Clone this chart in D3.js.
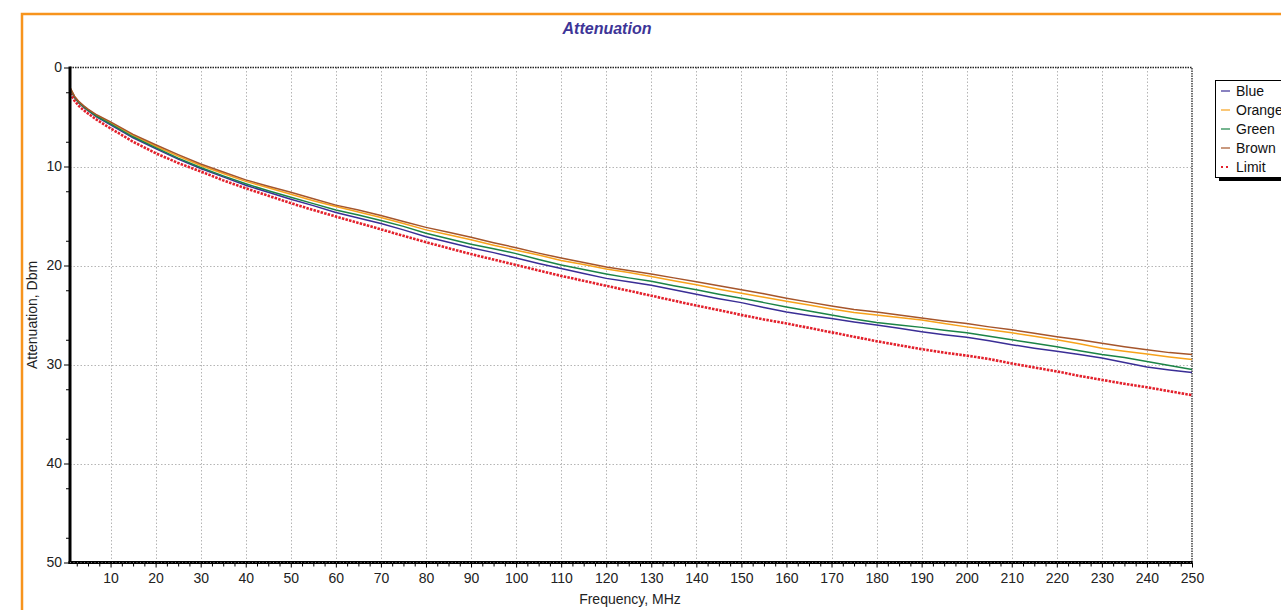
<!DOCTYPE html>
<html>
<head>
<meta charset="utf-8">
<script src="https://cdn.jsdelivr.net/npm/d3@7"></script>
<style>
  body { margin: 0; background: #fff; }
  svg { display: block; font-family: "Liberation Sans", Arial, sans-serif; }
</style>
</head>
<body>
<script>
// frequency points, MHz
var freqs = [1, 2, 3, 4, 5, 7, 10, 15, 20, 25, 30, 35, 40, 45, 50, 55, 60, 65, 70, 75, 80, 85, 90, 95,
  100, 105, 110, 115, 120, 125, 130, 135, 140, 145, 150, 155, 160, 165, 170, 175, 180, 185, 190, 195,
  200, 205, 210, 215, 220, 225, 230, 235, 240, 245, 250];

var blue = [2.15, 3.05, 3.6, 4.0, 4.35, 5.0, 5.8, 7.1, 8.2, 9.25, 10.2, 11.05, 11.9, 12.6, 13.3, 13.95, 14.65, 15.2, 15.75, 16.4, 17.1, 17.65, 18.2, 18.7,
  19.25, 19.8, 20.3, 20.8, 21.3, 21.65, 22.0, 22.45, 22.9, 23.35, 23.75, 24.25, 24.7, 25.05, 25.35, 25.7, 26.0, 26.35, 26.7, 27.0,
  27.25, 27.6, 28.0, 28.35, 28.65, 29.0, 29.35, 29.8, 30.25, 30.55, 30.8];
var orange = [2.05, 2.95, 3.5, 3.9, 4.25, 4.85, 5.6, 6.85, 7.95, 8.95, 9.9, 10.7, 11.5, 12.15, 12.8, 13.45, 14.05, 14.6, 15.15, 15.75, 16.4, 16.9, 17.4, 17.95,
  18.45, 18.95, 19.5, 19.9, 20.35, 20.7, 21.1, 21.55, 21.95, 22.4, 22.8, 23.2, 23.6, 24.0, 24.4, 24.75, 25.0, 25.25, 25.5, 25.85,
  26.2, 26.5, 26.8, 27.15, 27.5, 27.9, 28.35, 28.65, 28.95, 29.25, 29.5];
var green = [2.1, 3.0, 3.55, 3.95, 4.3, 4.95, 5.7, 7.0, 8.1, 9.15, 10.1, 10.95, 11.75, 12.45, 13.1, 13.75, 14.4, 14.9, 15.45, 16.05, 16.75, 17.3, 17.85, 18.3,
  18.8, 19.4, 19.95, 20.4, 20.85, 21.25, 21.6, 22.05, 22.45, 22.9, 23.3, 23.75, 24.2, 24.6, 25.0, 25.4, 25.75, 26.0, 26.25, 26.55,
  26.8, 27.15, 27.5, 27.85, 28.2, 28.6, 29.0, 29.3, 29.7, 30.1, 30.5];
var brown = [2.0, 2.9, 3.45, 3.85, 4.2, 4.8, 5.5, 6.75, 7.8, 8.8, 9.75, 10.55, 11.35, 12.0, 12.6, 13.25, 13.9, 14.4, 14.95, 15.55, 16.15, 16.65, 17.15, 17.7,
  18.2, 18.75, 19.25, 19.7, 20.15, 20.5, 20.85, 21.25, 21.65, 22.05, 22.45, 22.85, 23.3, 23.7, 24.1, 24.45, 24.7, 25.0, 25.3, 25.6,
  25.85, 26.2, 26.5, 26.85, 27.2, 27.5, 27.85, 28.2, 28.5, 28.8, 29.0];
var limit = [2.6, 3.35, 3.9, 4.3, 4.65, 5.3, 6.15, 7.5, 8.65, 9.65, 10.5, 11.4, 12.2, 12.95, 13.7, 14.4, 15.05, 15.7, 16.35, 17.0, 17.65, 18.25, 18.85, 19.4,
  19.95, 20.5, 21.05, 21.55, 22.05, 22.55, 23.05, 23.55, 24.05, 24.5, 25.0, 25.45, 25.85, 26.3, 26.75, 27.2, 27.65, 28.05, 28.45, 28.8,
  29.1, 29.45, 29.9, 30.3, 30.7, 31.15, 31.55, 31.95, 32.3, 32.7, 33.1];

var xTicks = [10, 20, 30, 40, 50, 60, 70, 80, 90, 100, 110, 120, 130, 140, 150, 160, 170, 180, 190, 200, 210, 220, 230, 240, 250];
var yTicks = [0, 10, 20, 30, 40, 50];

var series = [
  {name: 'Blue', values: blue, color: '#3a2e96'},
  {name: 'Orange', values: orange, color: '#f7a21b'},
  {name: 'Green', values: green, color: '#1b8446'},
  {name: 'Brown', values: brown, color: '#a5552b'},
  {name: 'Limit', values: limit, color: '#e3202b', dotted: true}
];

var width = 1281, height = 610;
var pLeft = 70, pRight = 1192, pTop = 67.5, pBottom = 562.5;

var svg = d3.select('body').append('svg')
    .attr('width', width)
    .attr('height', height);

// orange frame, runs off the right and bottom edges
svg.append('rect')
    .attr('x', 22).attr('y', 14)
    .attr('width', 1300).attr('height', 700)
    .attr('fill', 'none')
    .attr('stroke', '#f7941d')
    .attr('stroke-width', 2.5);

svg.append('text')
    .attr('x', 607).attr('y', 34)
    .attr('text-anchor', 'middle')
    .attr('font-size', 16).attr('font-weight', 'bold').attr('font-style', 'italic')
    .attr('fill', '#3d3597')
    .text('Attenuation');

var x = d3.scaleLinear().domain([1, 250]).range([pLeft, pRight]);
var y = d3.scaleLinear().domain([0, 50]).range([pTop, pBottom]);

// grid
var grid = svg.append('g').attr('stroke', '#b5b5b5').attr('stroke-dasharray', '1.5,2');
grid.selectAll('.gx').data(xTicks.slice(0, -1)).enter().append('line')
    .attr('x1', function(d) { return Math.round(x(d)) + 0.5; })
    .attr('x2', function(d) { return Math.round(x(d)) + 0.5; })
    .attr('y1', pTop).attr('y2', pBottom);
grid.selectAll('.gy').data(yTicks.slice(1, -1)).enter().append('line')
    .attr('x1', pLeft).attr('x2', pRight)
    .attr('y1', function(d) { return Math.round(y(d)) + 0.5; })
    .attr('y2', function(d) { return Math.round(y(d)) + 0.5; });

// plot border top/right, dotted
svg.append('path')
    .attr('d', 'M' + pLeft + ',' + pTop + 'H' + pRight + 'V' + pBottom)
    .attr('fill', 'none').attr('stroke', '#222').attr('stroke-width', 1.3)
    .attr('stroke-dasharray', '1.5,1');

// lines
var line = d3.line()
    .x(function(d, i) { return x(freqs[i]); })
    .y(function(d) { return y(d); });

svg.selectAll('.series').data(series).enter().append('path')
    .attr('class', 'series')
    .attr('d', function(s) { return line(s.values); })
    .attr('fill', 'none')
    .attr('stroke', function(s) { return s.color; })
    .attr('stroke-width', function(s) { return s.dotted ? 2.6 : 1.5; })
    .attr('stroke-dasharray', function(s) { return s.dotted ? '2.5,1.2' : null; });

// axes
var yAxis = svg.append('g')
    .attr('transform', 'translate(' + pLeft + ',0)')
    .call(d3.axisLeft(y).tickValues(yTicks).tickSize(6).tickPadding(2));
yAxis.select('.domain').remove();
yAxis.selectAll('text').attr('font-size', 14).attr('font-family', 'Liberation Sans, Arial, sans-serif').attr('fill', '#222');
svg.append('g')
    .attr('transform', 'translate(' + pLeft + ',0)')
    .call(d3.axisLeft(y).tickValues(d3.range(2.5, 50, 5)).tickSize(4).tickFormat(''))
    .select('.domain').remove();

var xAxis = svg.append('g')
    .attr('transform', 'translate(0,' + pBottom + ')')
    .call(d3.axisBottom(x).tickValues(xTicks).tickSize(5).tickPadding(6));
xAxis.select('.domain').remove();
xAxis.selectAll('text').attr('font-size', 14).attr('font-family', 'Liberation Sans, Arial, sans-serif').attr('fill', '#222');
svg.append('g')
    .attr('transform', 'translate(0,' + pBottom + ')')
    .call(d3.axisBottom(x).tickValues(d3.range(2.5, 250, 2.5).filter(function(d) { return d % 10 !== 0; })).tickSize(4).tickFormat(''))
    .select('.domain').remove();

svg.append('line')
    .attr('x1', pLeft).attr('x2', pLeft).attr('y1', pTop - 1).attr('y2', pBottom + 1.5)
    .attr('stroke', '#000').attr('stroke-width', 3);
svg.append('line')
    .attr('x1', pLeft - 1.5).attr('x2', pRight + 0.5).attr('y1', pBottom).attr('y2', pBottom)
    .attr('stroke', '#000').attr('stroke-width', 3);
svg.append('line')
    .attr('x1', pLeft).attr('x2', pRight).attr('y1', pBottom).attr('y2', pBottom)
    .attr('stroke', '#777').attr('stroke-width', 1)
    .attr('stroke-dasharray', '1,2.5');

svg.append('text')
    .attr('x', 630).attr('y', 604)
    .attr('text-anchor', 'middle').attr('font-size', 14).attr('fill', '#222')
    .text('Frequency, MHz');
svg.append('text')
    .attr('transform', 'translate(37,315) rotate(-90)')
    .attr('text-anchor', 'middle').attr('font-size', 14).attr('fill', '#222')
    .text('Attenuation, Dbm');

// legend
var lg = svg.append('g').attr('transform', 'translate(1215,80)');
lg.append('rect').attr('x', 4).attr('y', 97).attr('width', 100).attr('height', 4).attr('fill', '#000');
lg.append('rect').attr('x', 0.5).attr('y', 0.5).attr('width', 100).attr('height', 97)
    .attr('fill', '#fff').attr('stroke', '#000');
var item = lg.selectAll('.item').data(series).enter().append('g')
    .attr('transform', function(d, i) { return 'translate(0,' + (11 + i * 19) + ')'; });
item.append('line')
    .attr('x1', 6).attr('x2', 15)
    .attr('stroke', function(d) { return d.color; })
    .attr('stroke-width', function(d) { return d.dotted ? 2 : 1.2; })
    .attr('stroke-dasharray', function(d) { return d.dotted ? '2,3' : null; });
item.append('text')
    .attr('x', 21).attr('y', 5)
    .attr('font-size', 14).attr('fill', '#111')
    .text(function(d) { return d.name; });
</script>
</body>
</html>
